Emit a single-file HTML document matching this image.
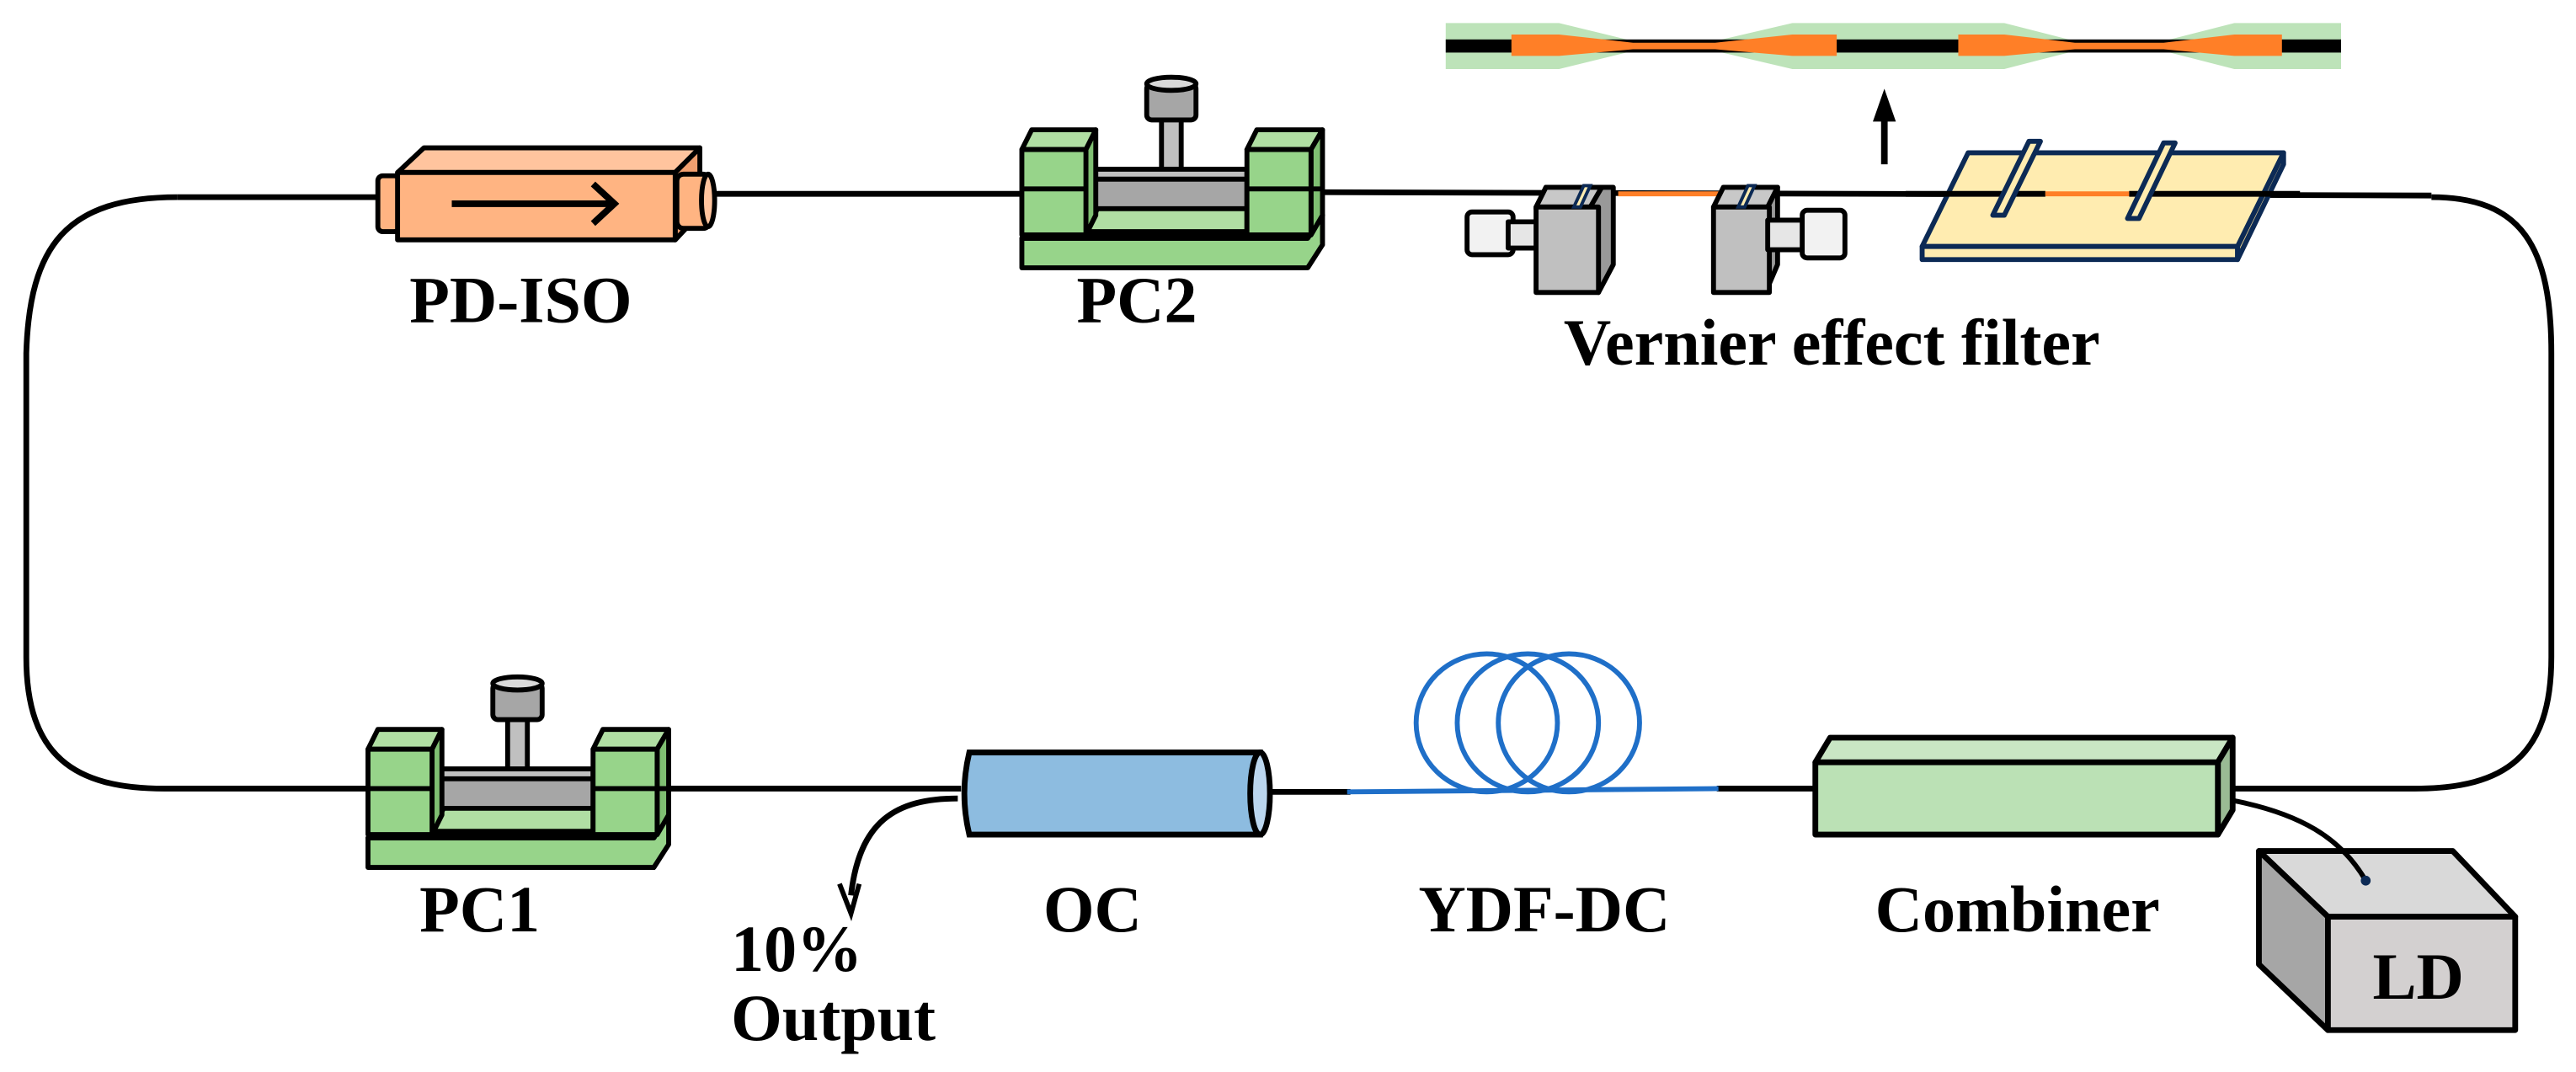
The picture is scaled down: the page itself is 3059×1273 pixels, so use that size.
<!DOCTYPE html>
<html><head><meta charset="utf-8"><style>
html,body{margin:0;padding:0;background:#fff;}
svg{display:block;}
text{font-family:"Liberation Serif",serif;font-weight:bold;fill:#000;}
</style></head><body>
<svg width="3059" height="1273" viewBox="0 0 1568 652.5" preserveAspectRatio="none" xmlns="http://www.w3.org/2000/svg">
<g fill="none" stroke="#000" stroke-width="3.5">
<path d="M108 120 C40 120 18 150 16 215 L16 400 C16 460 45 480 100 480 L225 480"/>
<path d="M1480 120 C1535 120 1553 150 1553 215 L1553 400 C1553 460 1525 480 1470 480 L1350 480"/>
<line x1="108" y1="120" x2="232" y2="120"/>
<line x1="435" y1="118" x2="624" y2="118"/>
<line x1="805" y1="117" x2="1480" y2="119"/>
<line x1="405" y1="480" x2="585" y2="480"/>
<line x1="770" y1="482" x2="822" y2="482"/>
<line x1="1045" y1="480" x2="1107" y2="480"/>
<path d="M583 486 C545 486 523 500 518 545"/>
</g>
<path d="M511 538 L518 556 L523 538" fill="none" stroke="#000" stroke-width="3"/>

<line x1="985" y1="118" x2="1048" y2="118" stroke="#FF7F27" stroke-width="3"/>

<!-- PD-ISO -->
<g stroke="#000" stroke-width="3" stroke-linejoin="round">
<rect x="230" y="107" width="13" height="34" rx="3" fill="#FFB482"/>
<polygon points="242,105 258,90 426,90 411,105" fill="#FFC49E"/>
<polygon points="411,105 426,90 426,130 411,146" fill="#F2A070"/>
<rect x="242" y="105" width="169" height="41" fill="#FFB482"/>
<rect x="412" y="106" width="20" height="33" rx="4" fill="#FFB482"/>
<ellipse cx="431" cy="122" rx="4" ry="16" fill="#FFC49E"/>
</g>
<line x1="275" y1="124" x2="372" y2="124" stroke="#000" stroke-width="4"/>
<path d="M361 112 L374 124 L361 136" fill="none" stroke="#000" stroke-width="4"/>

<defs>
<g id="pc">
<g stroke="#000" stroke-width="3" stroke-linejoin="round">
<rect x="85" y="-20" width="12" height="40" fill="#C0C0C0"/>
<rect x="76" y="-40" width="30" height="22" rx="3" fill="#A6A6A6"/>
<ellipse cx="91" cy="-40" rx="15" ry="4" fill="#D9D9D9"/>
<polygon points="0,54 174,54 183,40 183,58 174,72 0,72" fill="#97D48A"/>
<polygon points="0,54 8,40 183,40 174,54" fill="#000"/>
<rect x="39" y="18" width="98" height="22" fill="#A6A6A6"/>
<polygon points="39,18 45,12 137,12 137,18" fill="#C0C0C0"/>
<polygon points="39,50 46,36 137,36 137,50" fill="#B0DEA3"/>
<polygon points="0,0 6,-12 45,-12 39,0" fill="#B0DEA3"/>
<polygon points="39,0 45,-12 45,40 39,52" fill="#7FBF72"/>
<rect x="0" y="0" width="39" height="52" fill="#97D48A"/>
<line x1="0" y1="24" x2="39" y2="24"/>
<polygon points="137,0 143,-12 183,-12 176,0" fill="#B0DEA3"/>
<polygon points="176,0 183,-12 183,40 176,52" fill="#7FBF72"/>
<rect x="137" y="0" width="39" height="52" fill="#97D48A"/>
<line x1="137" y1="24" x2="183" y2="24"/>
</g>
</g>
</defs>
<use href="#pc" x="622" y="91"/>
<use href="#pc" x="224" y="456"/>

<!-- Vernier clamps -->
<g stroke="#000" stroke-width="3" stroke-linejoin="round">
<rect x="893" y="129" width="28" height="26" rx="3" fill="#F2F2F2"/>
<rect x="918" y="135" width="22" height="16" fill="#E6E6E6"/>
<polygon points="935,127 941,114 982,114 982,161 973,178" fill="#999"/>
<polygon points="935,126 941,114 975,114 968,126" fill="#C8C8C8"/>
<rect x="935" y="126" width="38" height="52" fill="#C0C0C0"/>
<polygon points="1043,126 1049,114 1082,114 1076,126" fill="#C8C8C8"/>
<polygon points="1076,126 1082,114 1082,161 1076,175" fill="#999"/>
<rect x="1043" y="126" width="34" height="52" fill="#C0C0C0"/>
<rect x="1076" y="134" width="22" height="18" fill="#E6E6E6"/>
<rect x="1097" y="128" width="26" height="29" rx="3" fill="#F2F2F2"/>
</g>
<polygon points="958,126 964,113 968,113 962,126" fill="#FFECB0" stroke="#0C2A55" stroke-width="2"/>
<polygon points="1058,126 1064,113 1068,113 1062,126" fill="#FFECB0" stroke="#0C2A55" stroke-width="2"/>

<g stroke="#0C2A55" stroke-width="3" stroke-linejoin="round">
<polygon points="1170,150 1198,93 1390,93 1362,150" fill="#FFECB0"/>
<polygon points="1170,150 1362,150 1362,158 1170,158" fill="#FFECB0"/>
<polygon points="1362,150 1390,93 1390,100 1362,158" fill="#E8D090"/>
</g>
<line x1="1160" y1="118" x2="1245" y2="118" stroke="#000" stroke-width="3.5"/>
<line x1="1245" y1="118" x2="1296" y2="118" stroke="#FF7F27" stroke-width="3"/>
<line x1="1296" y1="118" x2="1400" y2="118" stroke="#000" stroke-width="3.5"/>
<g stroke="#0C2A55" stroke-width="3" stroke-linejoin="round">
<polygon points="1213,131 1235,86 1242,86 1220,131" fill="#FFECB0"/>
<polygon points="1295,133 1317,87 1324,87 1302,133" fill="#FFECB0"/>
</g>

<line x1="1147" y1="100" x2="1147" y2="72" stroke="#000" stroke-width="4"/>
<polygon points="1140,74 1147,54 1154,74" fill="#000"/>

<polygon points="880,14 949,14 994,25 1044,25 1091,14 1220,14 1263,25 1317,25 1360,14 1425,14 1425,42 1360,42 1317,31 1263,31 1220,42 1091,42 1044,31 994,31 949,42 880,42" fill="#BDE3B9"/>
<rect x="880" y="24" width="545" height="8" fill="#000"/>
<polygon points="920,21 949,21 994,26 1044,26 1091,21 1118,21 1118,34 1091,34 1044,30 994,30 949,34 920,34" fill="#FF7F27"/>
<polygon points="1192,21 1220,21 1263,26 1317,26 1360,21 1389,21 1389,34 1360,34 1317,30 1263,30 1220,34 1192,34" fill="#FF7F27"/>

<g stroke="#000" stroke-width="3.5">
<path d="M590 458 L767 458 L767 508 L590 508 Q584 483 590 458 Z" fill="#8DBCE0"/>
<ellipse cx="767" cy="483" rx="6" ry="25" fill="#BBD6EE"/>
</g>

<g fill="none" stroke="#1F6FC8" stroke-width="3">
<line x1="820" y1="482" x2="1046" y2="480"/>
<ellipse cx="905" cy="440" rx="43" ry="42"/>
<ellipse cx="930" cy="440" rx="43" ry="42"/>
<ellipse cx="955" cy="440" rx="43" ry="42"/>
</g>

<g stroke="#000" stroke-width="3.5" stroke-linejoin="round">
<polygon points="1105,464 1114,449 1359,449 1350,464" fill="#C9E6C4"/>
<polygon points="1350,464 1359,449 1359,493 1350,508" fill="#9ABB94"/>
<rect x="1105" y="464" width="245" height="44" fill="#BBE1B5"/>
</g>

<g stroke="#000" stroke-width="3.5" stroke-linejoin="round">
<polygon points="1375,518 1493,518 1531,558 1417,558" fill="#D9D9D9"/>
<polygon points="1375,518 1417,558 1417,627 1375,587" fill="#A6A6A6"/>
<rect x="1417" y="558" width="114" height="69" fill="#D3D0D0"/>
</g>
<path d="M1358 487 C1400 495 1425 510 1440 536" fill="none" stroke="#000" stroke-width="3"/>
<circle cx="1440" cy="536" r="3" fill="#0C2A55"/>

<g font-size="40">
<text x="317" y="196" text-anchor="middle">PD-ISO</text>
<text x="692" y="196" text-anchor="middle">PC2</text>
<text x="1115" y="222" text-anchor="middle">Vernier effect filter</text>
<text x="292" y="567" text-anchor="middle">PC1</text>
<text x="665" y="567" text-anchor="middle">OC</text>
<text x="940" y="567" text-anchor="middle">YDF-DC</text>
<text x="1228" y="567" text-anchor="middle">Combiner</text>
<text x="1472" y="608" text-anchor="middle">LD</text>
<text x="445" y="591">10%</text>
<text x="445" y="633">Output</text>
</g>
</svg>
</body></html>
